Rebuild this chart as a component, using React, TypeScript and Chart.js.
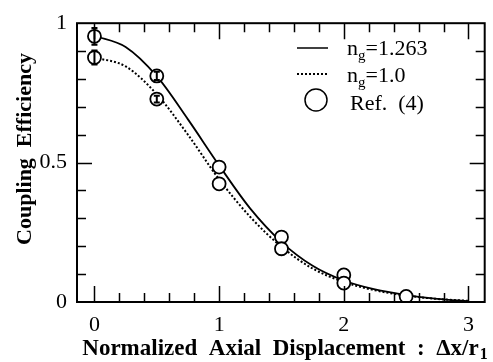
import React, { useEffect, useRef } from "react";
import { Chart, registerables } from "chart.js";

Chart.register(...registerables);

// ---- data ----
const curveX = [0, 0.25, 0.5, 0.75, 1.0, 1.25, 1.5, 1.75, 2.0, 2.25, 2.5, 2.75, 3.0];
const solidY = [0.955, 0.915, 0.81, 0.655, 0.49, 0.335, 0.215, 0.13, 0.077, 0.045, 0.025, 0.011, 0.003];
const dottedY = [0.877, 0.845, 0.745, 0.6, 0.44, 0.305, 0.198, 0.12, 0.072, 0.042, 0.023, 0.011, 0.004];

const refX = [0, 0, 0.5, 0.5, 1.0, 1.0, 1.5, 1.5, 2.0, 2.0, 2.5];
const refY = [0.953, 0.877, 0.811, 0.728, 0.484, 0.424, 0.233, 0.191, 0.097, 0.068, 0.02];
const refErr = [0.03, 0.025, 0.015, 0.012, 0, 0, 0, 0, 0, 0, 0];

const xTickValues = [0, 1, 2, 3];
const xTickLabels = ["0", "1", "2", "3"];
const yTickValues = [0, 0.5, 1];
const yTickLabels = ["0", "0.5", "1"];

const legendIndex = ["1.263", "1.0"];
const legendRef = "Ref.  (4)";
const yTitle = "Coupling  Efficiency";
const xTitleMain = "Normalized  Axial  Displacement  :  \u0394x/r";
const xTitleSub = "1";

const SERIF = "'Liberation Serif', 'DejaVu Serif', serif";

const decorPlugin = {
  id: "decor",
  afterDatasetsDraw(chart: any) {
    const ctx = chart.ctx;
    const { left, right, top, bottom } = chart.chartArea;
    const xs = chart.scales.x;
    const ys = chart.scales.y;
    ctx.save();
    ctx.strokeStyle = "#000";
    ctx.fillStyle = "#000";

    // error bars
    ctx.lineWidth = 2;
    for (let i = 0; i < refX.length; i++) {
      if (!refErr[i]) continue;
      const px = xs.getPixelForValue(refX[i]);
      const y1 = ys.getPixelForValue(refY[i] + refErr[i]);
      const y2 = ys.getPixelForValue(refY[i] - refErr[i]);
      ctx.beginPath();
      ctx.moveTo(px, y1);
      ctx.lineTo(px, y2);
      ctx.moveTo(px - 3, y1);
      ctx.lineTo(px + 3, y1);
      ctx.moveTo(px - 3, y2);
      ctx.lineTo(px + 3, y2);
      ctx.stroke();
    }

    // frame
    ctx.lineWidth = 2;
    ctx.strokeRect(left, top, right - left, bottom - top);

    // x ticks (every 0.2)
    ctx.lineWidth = 1.5;
    for (let k = 0; k <= 15; k++) {
      const v = k * 0.2;
      const px = Math.round(xs.getPixelForValue(v)) + 0.5;
      const major = k % 5 === 0;
      const len = major ? 16 : 9;
      ctx.beginPath();
      ctx.moveTo(px, bottom);
      ctx.lineTo(px, bottom - len);
      ctx.moveTo(px, top);
      ctx.lineTo(px, top + len);
      ctx.stroke();
    }
    // y ticks (every 0.1)
    for (let k = 1; k < 10; k++) {
      const v = k * 0.1;
      const py = Math.round(ys.getPixelForValue(v)) + 0.5;
      const len = k === 5 ? 15 : 9;
      ctx.beginPath();
      ctx.moveTo(left, py);
      ctx.lineTo(left + len, py);
      ctx.moveTo(right, py);
      ctx.lineTo(right - len, py);
      ctx.stroke();
    }

    // legend
    const lx1 = 297, lx2 = 328, tx = 347;
    ctx.lineWidth = 1.5;
    ctx.setLineDash([]);
    ctx.beginPath();
    ctx.moveTo(lx1, 48);
    ctx.lineTo(lx2, 48);
    ctx.stroke();
    ctx.lineWidth = 2;
    ctx.setLineDash([2, 2]);
    ctx.beginPath();
    ctx.moveTo(lx1, 74);
    ctx.lineTo(lx2, 74);
    ctx.stroke();
    ctx.setLineDash([]);
    ctx.lineWidth = 1.5;
    ctx.beginPath();
    ctx.arc(316, 100, 11, 0, Math.PI * 2);
    ctx.stroke();

    const drawNg = (val: string, baseY: number) => {
      ctx.textBaseline = "alphabetic";
      ctx.textAlign = "left";
      ctx.font = `22px ${SERIF}`;
      ctx.fillText("n", tx, baseY);
      let w = ctx.measureText("n").width;
      ctx.font = `15px ${SERIF}`;
      ctx.fillText("g", tx + w, baseY + 5);
      w += ctx.measureText("g").width;
      ctx.font = `22px ${SERIF}`;
      ctx.fillText("=" + val, tx + w, baseY);
    };
    drawNg(legendIndex[0], 55);
    drawNg(legendIndex[1], 82);
    ctx.font = `22px ${SERIF}`;
    ctx.fillText(legendRef, 350, 110);

    // x title
    ctx.font = `bold 23px ${SERIF}`;
    const wMain = ctx.measureText(xTitleMain).width;
    ctx.font = `bold 16px ${SERIF}`;
    const wSub = ctx.measureText(xTitleSub).width;
    const startX = (79 + 490) / 2 - (wMain + wSub) / 2;
    ctx.font = `bold 23px ${SERIF}`;
    ctx.textAlign = "left";
    ctx.fillText(xTitleMain, startX, 355);
    ctx.font = `bold 16px ${SERIF}`;
    ctx.fillText(xTitleSub, startX + wMain + 1, 359);

    // y title
    ctx.save();
    ctx.translate(31, 149);
    ctx.rotate(-Math.PI / 2);
    ctx.font = `bold 22px ${SERIF}`;
    ctx.textAlign = "center";
    ctx.fillText(yTitle, 0, 0);
    ctx.restore();

    ctx.restore();
  },
};

export default function App() {
  const ref = useRef<HTMLCanvasElement | null>(null);
  useEffect(() => {
    document.body.style.margin = "0";
    const canvas = ref.current!;
    const chart = new Chart(canvas, {
      type: "scatter",
      data: {
        datasets: [
          {
            label: "Ref. (4)",
            data: refX.map((x, i) => ({ x, y: refY[i] })),
            pointRadius: 6.5,
            pointHoverRadius: 6.5,
            pointBorderWidth: 1.8,
            pointBorderColor: "#000",
            pointBackgroundColor: "#fff",
            showLine: false,
          },
          {
            label: "ng=1.263",
            data: curveX.map((x, i) => ({ x, y: solidY[i] })),
            showLine: true,
            borderColor: "#000",
            borderWidth: 1.8,
            pointRadius: 0,
            cubicInterpolationMode: "monotone",
          },
          {
            label: "ng=1.0",
            data: curveX.map((x, i) => ({ x, y: dottedY[i] })),
            showLine: true,
            borderColor: "#000",
            borderWidth: 2,
            borderDash: [2, 2],
            pointRadius: 0,
            cubicInterpolationMode: "monotone",
          },
        ],
      },
      options: {
        responsive: false,
        animation: false,
        events: [],
        layout: { padding: { left: 0, top: 13, right: 4, bottom: 0 } },
        plugins: {
          legend: { display: false },
          tooltip: { enabled: false },
        },
        scales: {
          x: {
            type: "linear",
            min: -0.14,
            max: 3.13,
            grid: { display: false, drawTicks: false },
            border: { display: false },
            afterBuildTicks: (s: any) => {
              s.ticks = xTickValues.map((v) => ({ value: v }));
            },
            afterFit: (s: any) => {
              s.height = 60;
            },
            ticks: {
              padding: 10,
              color: "#000",
              font: { family: SERIF, size: 22 },
              maxRotation: 0,
              callback: (v: any) => {
                const i = xTickValues.indexOf(Number(v));
                return i >= 0 ? xTickLabels[i] : "";
              },
            },
          },
          y: {
            type: "linear",
            min: 0,
            max: 1,
            grid: { display: false, drawTicks: false },
            border: { display: false },
            afterBuildTicks: (s: any) => {
              s.ticks = yTickValues.map((v) => ({ value: v }));
            },
            afterFit: (s: any) => {
              s.width = 77;
            },
            ticks: {
              padding: 10,
              color: "#000",
              font: { family: SERIF, size: 22 },
              callback: (v: any) => {
                const i = yTickValues.indexOf(Number(v));
                return i >= 0 ? yTickLabels[i] : "";
              },
            },
          },
        },
      },
      plugins: [decorPlugin],
    });
    return () => chart.destroy();
  }, []);
  return (
    <div style={{ width: 493, height: 362, background: "#fff" }}>
      <canvas ref={ref} width={493} height={362} />
    </div>
  );
}
